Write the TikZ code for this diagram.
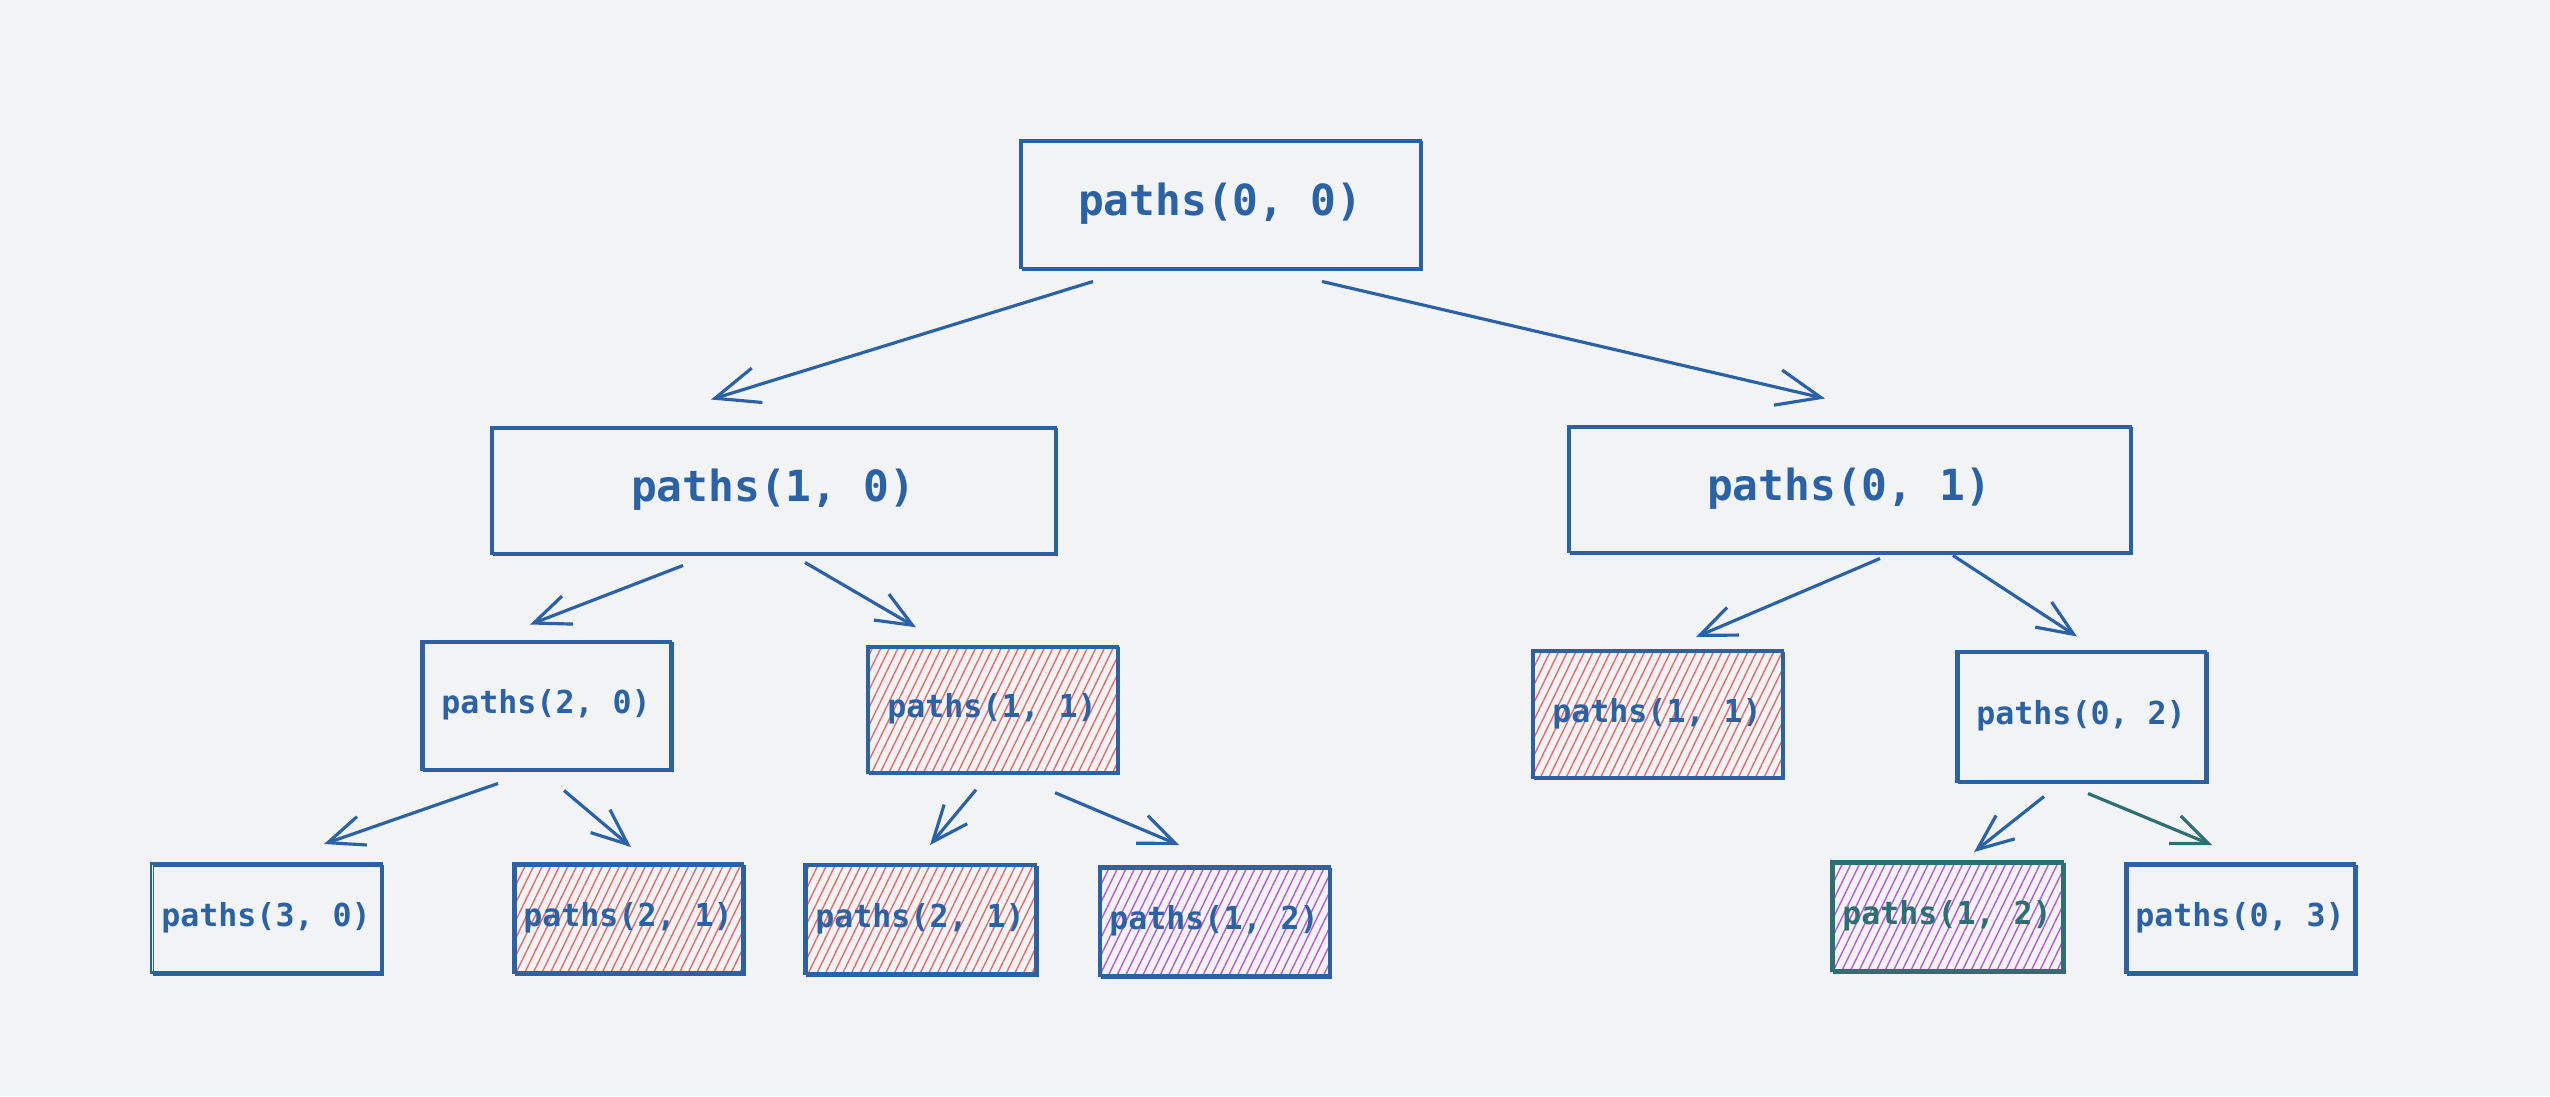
\documentclass[tikz,border=0pt]{standalone}
\usepackage{fontspec}
\usepackage{tikz}
\usetikzlibrary{arrows.meta,patterns.meta}
\newfontfamily\codefont{DejaVu Sans Mono}
\definecolor{bgcol}{HTML}{F1F3F5}
\definecolor{inkblue}{HTML}{2B62A5}
\definecolor{inkteal}{HTML}{2E6F74}
\definecolor{hatchred}{HTML}{EA6A6A}
\definecolor{hatchpurple}{HTML}{B85ADC}
\tikzset{
  sketch/.style={draw=inkblue,line width=0.85pt,text=inkblue,inner sep=0pt,
    postaction={draw=inkblue,line width=0.5pt,transform canvas={shift={(0.7pt,-0.6pt)}}}},
  bigbox/.style={sketch,minimum height=1.26cm,font=\codefont\bfseries\fontsize{12.2}{14}\selectfont},
  smallbox/.style={sketch,font=\codefont\bfseries\fontsize{9}{11}\selectfont},
  redfill/.style={pattern={Lines[angle=64,distance=2.2pt,line width=0.4pt]},pattern color=hatchred},
  purplefill/.style={pattern={Lines[angle=64,distance=2.2pt,line width=0.4pt]},pattern color=hatchpurple},
  arr/.style={draw=inkblue,line width=0.9pt,-{Straight Barb[length=4.4mm,width=3.6mm,line width=0.9pt]}},
  arrsm/.style={arr,-{Straight Barb[length=3.6mm,width=3cm/10,line width=0.9pt]}}
}
\begin{document}
\begin{tikzpicture}
\useasboundingbox[fill=bgcol] (0,0) rectangle (25.5,10.96);
% level 0 and 1
\node[bigbox,minimum width=4cm,minimum height=1.28cm] (root) at (12.20,8.92) {paths(0, 0)};
\node[bigbox,minimum width=5.64cm] (p10) at (7.73,6.06) {paths(1, 0)};
\node[bigbox,minimum width=5.62cm] (p01) at (18.49,6.07) {paths(0, 1)};
% level 2
\node[smallbox,minimum width=2.49cm,minimum height=1.28cm] (p20) at (5.46,3.91) {paths(2, 0)};
\node[smallbox,redfill,minimum width=2.5cm,minimum height=1.26cm] (p11a) at (9.92,3.87) {paths(1, 1)};
\node[smallbox,redfill,minimum width=2.5cm,minimum height=1.27cm] (p11b) at (16.57,3.82) {paths(1, 1)};
\node[smallbox,minimum width=2.49cm,minimum height=1.3cm] (p02) at (20.81,3.80) {paths(0, 2)};
% level 3
\node[smallbox,minimum width=2.3cm,minimum height=1.09cm] (p30) at (2.66,1.78) {paths(3, 0)};
\node[smallbox,redfill,minimum width=2.29cm,minimum height=1.09cm] (p21a) at (6.28,1.78) {paths(2, 1)};
\node[smallbox,redfill,minimum width=2.31cm,minimum height=1.09cm] (p21b) at (9.20,1.77) {paths(2, 1)};
\node[smallbox,purplefill,minimum width=2.3cm,minimum height=1.09cm] (p12a) at (12.14,1.75) {paths(1, 2)};
\node[smallbox,purplefill,draw=inkteal,text=inkteal,minimum width=2.31cm,minimum height=1.09cm,
  postaction={draw=inkteal,line width=0.5pt,transform canvas={shift={(0.7pt,-0.6pt)}}}] (p12b) at (19.47,1.80) {paths(1, 2)};
\node[smallbox,minimum width=2.29cm,minimum height=1.09cm] (p03) at (22.40,1.78) {paths(0, 3)};
% arrows
\draw[arr] ([xshift=-1.27cm,yshift=-0.12cm]root.south) -- ([xshift=-0.62cm,yshift=0.26cm]p10.north);
\draw[arr] ([xshift=1.02cm,yshift=-0.12cm]root.south) -- ([xshift=-0.24cm,yshift=0.26cm]p01.north);
\draw[arrsm] ([xshift=-0.9cm,yshift=-0.11cm]p10.south) -- ([xshift=-0.16cm,yshift=0.15cm]p20.north);
\draw[arrsm] ([xshift=0.32cm,yshift=-0.08cm]p10.south) -- ([xshift=-0.76cm,yshift=0.18cm]p11a.north);
\draw[arrsm] ([xshift=0.31cm,yshift=-0.05cm]p01.south) -- ([xshift=0.39cm,yshift=0.12cm]p11b.north);
\draw[arrsm] ([xshift=1.04cm,yshift=-0.02cm]p01.south) -- ([xshift=-0.04cm,yshift=0.13cm]p02.north);
\draw[arrsm] ([xshift=-0.48cm,yshift=-0.13cm]p20.south) -- ([xshift=0.58cm,yshift=0.18cm]p30.north);
\draw[arrsm] ([xshift=0.18cm,yshift=-0.2cm]p20.south) -- ([xshift=0.03cm,yshift=0.15cm]p21a.north);
\draw[arrsm] ([xshift=-0.16cm,yshift=-0.17cm]p11a.south) -- ([xshift=0.1cm,yshift=0.18cm]p21b.north);
\draw[arrsm] ([xshift=0.63cm,yshift=-0.2cm]p11a.south) -- ([xshift=-0.35cm,yshift=0.2cm]p12a.north);
\draw[arrsm] ([xshift=-0.37cm,yshift=-0.14cm]p02.south) -- ([xshift=0.27cm,yshift=0.08cm]p12b.north);
\draw[arrsm,draw=inkteal] ([xshift=0.07cm,yshift=-0.11cm]p02.south) -- ([xshift=-0.28cm,yshift=0.17cm]p03.north);
\end{tikzpicture}
\end{document}
